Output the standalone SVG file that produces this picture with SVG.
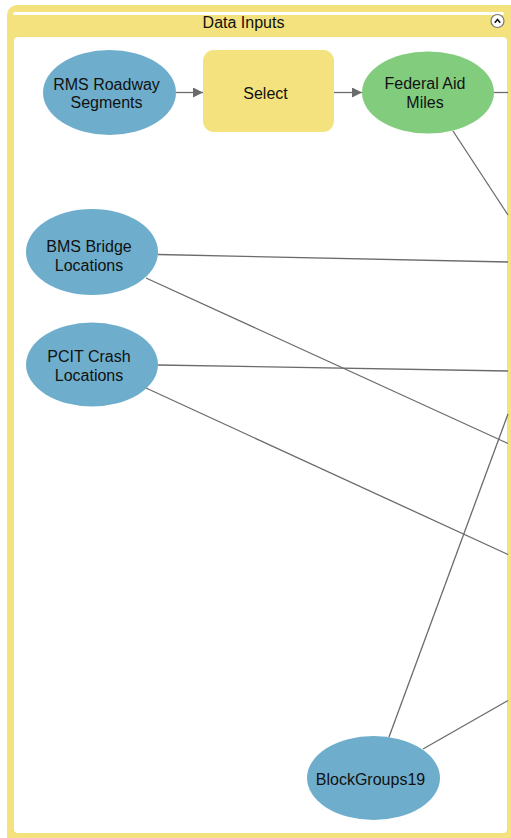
<svg xmlns="http://www.w3.org/2000/svg" width="511" height="838" viewBox="0 0 511 838">
<defs>
<style>
.frame{fill:#F3E27D}
.inner{fill:#FFFFFF}
.ds{fill:#6EAECC}
.out{fill:#82CC7E}
.tool{fill:#F3E27D}
.lbl{font-family:"Liberation Sans",Arial,sans-serif;font-size:16px;fill:#111111;text-anchor:middle}
.ttl{font-family:"Liberation Sans",Arial,sans-serif;font-size:16px;fill:#111111;text-anchor:middle}
.conn line{stroke:#6B6B6B;stroke-width:1.3;fill:none}
</style>
<marker id="arr" viewBox="0 0 10 10" refX="10" refY="5" markerWidth="11" markerHeight="10" markerUnits="userSpaceOnUse" orient="auto">
<path d="M0,0 L10,5 L0,10 Z" fill="#6B6B6B"/>
</marker>
</defs>
<rect width="511" height="838" fill="#FFFFFF"/>
<g id="group-frame">
<rect class="frame" x="7" y="5" width="530" height="850" rx="10"/>
<rect class="inner" x="13" y="12" width="491" height="3" rx="1.5"/>
<rect class="inner" x="14" y="37" width="493" height="796" rx="4"/>
<text class="ttl" x="243.5" y="28">Data Inputs</text>
<g id="collapse">
<circle cx="497.5" cy="21" r="6.5" fill="#FFFFFF" stroke="#777777" stroke-width="1.2"/>
<path d="M494.8,22.8 L497.5,19.6 L500.2,22.8" fill="none" stroke="#111111" stroke-width="1.6"/>
</g>
</g>
<g id="connectors" class="conn">
<line x1="176" y1="92.5" x2="203" y2="92.5" marker-end="url(#arr)"/>
<line x1="334" y1="92.5" x2="362" y2="92.5" marker-end="url(#arr)"/>
<line x1="494" y1="92.5" x2="508" y2="92.5"/>
<line x1="453" y1="131" x2="508" y2="215"/>
<line x1="158" y1="254.5" x2="508" y2="262"/>
<line x1="146" y1="278" x2="508" y2="443.5"/>
<line x1="158" y1="365" x2="508" y2="371"/>
<line x1="146" y1="388" x2="508" y2="554.5"/>
<line x1="389" y1="737" x2="508" y2="414"/>
<line x1="423" y1="749" x2="508" y2="700.5"/>
</g>
<g id="node-rms">
<ellipse class="ds" cx="109.5" cy="92.5" rx="66.5" ry="42.5"/>
<text class="lbl" x="106.5" y="89.5">RMS Roadway</text>
<text class="lbl" x="106.5" y="108">Segments</text>
</g>
<g id="node-select">
<rect class="tool" x="203" y="50" width="131" height="82" rx="11"/>
<text class="lbl" x="265.5" y="99">Select</text>
</g>
<g id="node-federal">
<ellipse class="out" cx="428" cy="92.5" rx="66" ry="41"/>
<text class="lbl" x="425" y="89">Federal Aid</text>
<text class="lbl" x="425" y="108">Miles</text>
</g>
<g id="node-bms">
<ellipse class="ds" cx="92" cy="252" rx="66" ry="43"/>
<text class="lbl" x="89" y="251.5">BMS Bridge</text>
<text class="lbl" x="89" y="270.5">Locations</text>
</g>
<g id="node-pcit">
<ellipse class="ds" cx="92" cy="364.5" rx="66" ry="42"/>
<text class="lbl" x="89" y="362">PCIT Crash</text>
<text class="lbl" x="89" y="380.5">Locations</text>
</g>
<g id="node-blockgroups">
<ellipse class="ds" cx="373.5" cy="778" rx="66.5" ry="42"/>
<text class="lbl" x="370.5" y="785">BlockGroups19</text>
</g>
</svg>
